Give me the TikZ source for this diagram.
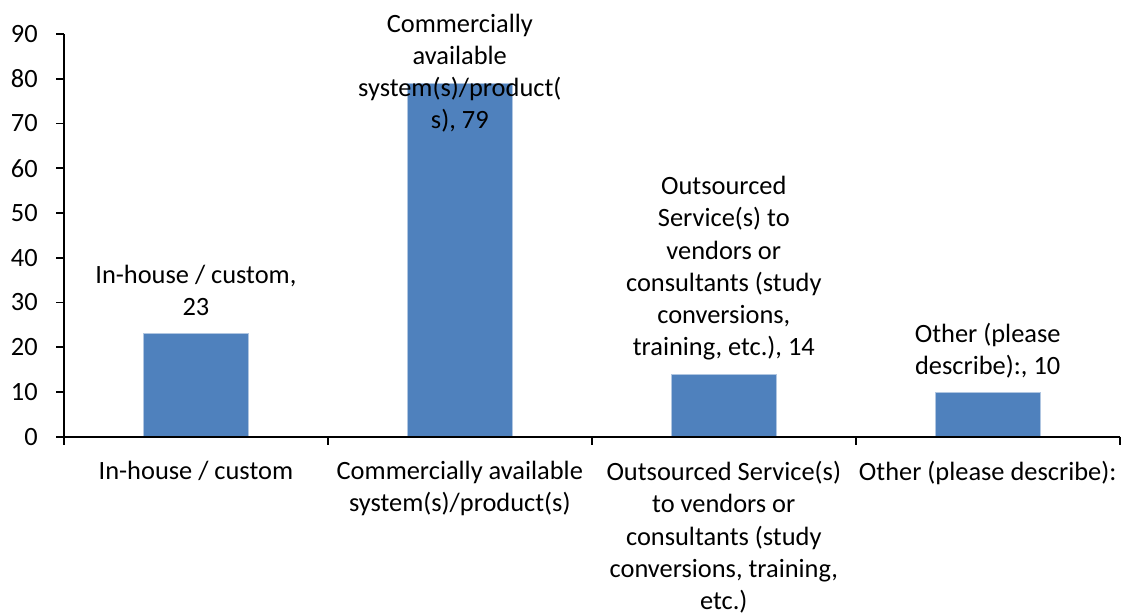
\documentclass[tikz,border=0pt]{standalone}
\usepackage{fontspec}
\setmainfont{Carlito}
\usepackage{tikz}
\definecolor{barblue}{RGB}{79,129,189}

\begin{document}
\begin{tikzpicture}[x=0.75pt,y=-0.75pt]
      \useasboundingbox(0,0) rectangle (1122,613);
      \tikzset{B/.style = {fill=barblue, draw=barblue!45, line width=0.6pt}}
      \tikzset{A/.style = {draw=black, line width=1.4pt}}
      \tikzset{T/.style = {font=\fontsize{19.8}{24.2}\selectfont, inner sep=0pt, text=black}}
      \tikzset{L/.style = {T, align=center, anchor=north}}
      % bars
      \draw[B] (143.1,436.7) rectangle (248.7,333.8);
      \draw[B] (407.0,436.7) rectangle (512.6,83.3);
      \draw[B] (671.0,436.7) rectangle (776.6,374.1);
      \draw[B] (934.9,436.7) rectangle (1040.5,392.0);
      % axes
      \coordinate (o) at (64,436.7);
      \coordinate (ymax) at (64,34);
      \coordinate (xmax) at (1120,436.7);
      \draw[A] (ymax) -- (o) -- (xmax);
      \draw[A] (56,436.7) -- (64,436.7);
      \draw[A] (56,392.0) -- (64,392.0);
      \draw[A] (56,347.2) -- (64,347.2);
      \draw[A] (56,302.5) -- (64,302.5);
      \draw[A] (56,257.7) -- (64,257.7);
      \draw[A] (56,213.0) -- (64,213.0);
      \draw[A] (56,168.3) -- (64,168.3);
      \draw[A] (56,123.5) -- (64,123.5);
      \draw[A] (56,78.8) -- (64,78.8);
      \draw[A] (56,34) -- (64,34);
      \draw[A] (64,436.7) -- (64,445);
      \draw[A] (328,436.7) -- (328,445);
      \draw[A] (592,436.7) -- (592,445);
      \draw[A] (856,436.7) -- (856,445);
      \draw[A] (1120,436.7) -- (1120,445);
      % y tick labels
      \node[T,anchor=east](y0) at (38,436.7) {0};
      \node[T,anchor=east](y10) at (38,392.0) {10};
      \node[T,anchor=east](y20) at (38,347.2) {20};
      \node[T,anchor=east](y30) at (38,302.5) {30};
      \node[T,anchor=east](y40) at (38,257.7) {40};
      \node[T,anchor=east](y50) at (38,213.0) {50};
      \node[T,anchor=east](y60) at (38,168.3) {60};
      \node[T,anchor=east](y70) at (38,123.5) {70};
      \node[T,anchor=east](y80) at (38,78.8) {80};
      \node[T,anchor=east](y90) at (38,34) {90};
      % category labels
      \node[L](c1) at (195.9,461) {In-house / custom};
      \node[L](c2) at (459.8,461) {Commercially available\\system(s)/product(s)};
      \node[L](c3) at (723.8,461) {Outsourced Service(s)\\to vendors or\\consultants (study\\conversions, training,\\etc.)};
      \node[L](c4) at (987.7,461) {Other (please describe):};
      % value labels
      \node[L](v1) at (195.9,265) {In-house / custom,\\23};
      \node[L](v2) at (459.8,13.5) {Commercially\\available\\system(s)/product(\\s), 79};
      \node[L](v3) at (723.8,176) {Outsourced\\Service(s) to\\vendors or\\consultants (study\\conversions,\\training, etc.), 14};
      \node[L](v4) at (987.7,323) {Other (please\\describe):, 10};
    \end{tikzpicture}
\end{document}
